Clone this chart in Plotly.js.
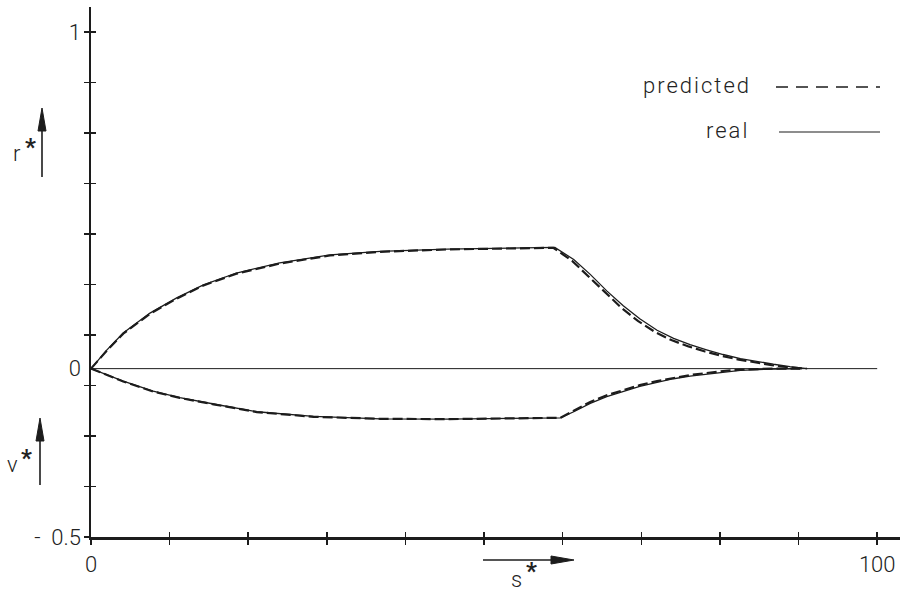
<!DOCTYPE html>
<html>
<head>
<meta charset="utf-8">
<script src="https://cdn.plot.ly/plotly-3.0.1.min.js"></script>
<style>html,body{margin:0;padding:0;background:#fff;}#chart{width:900px;height:593px;}
text.annotation-text{letter-spacing:2px;}</style>
</head>
<body>
<div id="chart"></div>
<script>
// ---- data ----
const realUpperS = [0, 2, 4.1, 7.5, 10.9, 14.3, 18.5, 24.0, 30.4, 36.8, 45.3, 52, 59.0, 61.4, 63.5, 65.6, 67.7, 69.8, 72.0, 74.1, 76.2, 78.3, 80.4, 82.6, 84.7, 86.8, 88.9, 91.1];
const realUpperR = [0, 0.055, 0.106, 0.165, 0.210, 0.249, 0.284, 0.314, 0.338, 0.348, 0.355, 0.358, 0.360, 0.324, 0.280, 0.231, 0.187, 0.148, 0.114, 0.090, 0.071, 0.056, 0.042, 0.030, 0.021, 0.013, 0.006, 0];
const predUpperS = [0, 2, 4.1, 7.5, 10.9, 14.3, 18.5, 24.0, 30.4, 36.8, 45.3, 52, 58.8, 61.2, 63.3, 65.4, 67.5, 69.6, 71.8, 73.9, 76.0, 78.1, 80.2, 82.4, 84.5, 86.6, 88.7, 91.0];
const predUpperR = [0, 0.053, 0.104, 0.163, 0.208, 0.247, 0.282, 0.312, 0.336, 0.347, 0.354, 0.357, 0.359, 0.320, 0.274, 0.225, 0.180, 0.141, 0.108, 0.084, 0.066, 0.051, 0.038, 0.027, 0.018, 0.010, 0.004, 0];
const realLowerS = [0, 2, 4.1, 7.9, 11.3, 15.6, 21.1, 28.3, 36.8, 45.3, 52, 59.7, 61.4, 63.5, 65.6, 67.7, 69.8, 72.0, 74.1, 76.2, 78.3, 80.4, 82.6, 86.8, 90.2];
const realLowerV = [0, -0.019, -0.037, -0.067, -0.086, -0.105, -0.128, -0.142, -0.149, -0.150, -0.149, -0.146, -0.128, -0.103, -0.083, -0.067, -0.053, -0.041, -0.030, -0.022, -0.016, -0.0095, -0.005, -0.001, 0];
const predLowerS = [0, 2, 4.1, 7.9, 11.3, 15.6, 21.1, 28.3, 36.8, 45.3, 52, 59.7, 61.4, 63.5, 65.6, 67.7, 69.8, 72.0, 74.1, 76.2, 78.3, 80.4, 82.6, 86.8, 90.2];
const predLowerV = [0, -0.019, -0.038, -0.068, -0.087, -0.106, -0.129, -0.143, -0.149, -0.150, -0.149, -0.146, -0.125, -0.099, -0.079, -0.063, -0.049, -0.037, -0.027, -0.019, -0.013, -0.007, -0.003, 0, 0];
const zeroS = [0, 100];
const zeroV = [0, 0];

const xTickVals = [0, 10, 20, 30, 40, 50, 60, 70, 80, 90, 100];
const xTickText = ['0', '', '', '', '', '', '', '', '', '', '100'];
const yTickVals = [-0.5, -0.35, -0.2, -0.05, 0.1, 0.25, 0.4, 0.55, 0.7, 0.85, 1.0];
const yLabelVals = [-0.5, 0, 1];
const yLabelText = ['-\u00a0\u00a00.5', '0', '1'];
const legendNames = ['predicted', 'real'];

// ---- layout helpers (pixel -> paper) ----
const L = 91, T = 7, W = 809, H = 530;
const px = x => (x - L) / W;
const py = y => (T + H - y) / H;
const INK = '#1c1c1c';
const FONT = {family: 'Roboto, "DejaVu Sans", sans-serif', size: 22, color: '#222', weight: 300};
const STAR = {family: 'Roboto, "DejaVu Sans", sans-serif', size: 24, color: '#222', weight: 700};

function upArrow(x, yTip, yTail) {
  return [
    {type: 'line', xref: 'paper', yref: 'paper', x0: px(x), x1: px(x), y0: py(yTail), y1: py(yTip + 18), line: {color: INK, width: 1.6}},
    {type: 'path', xref: 'paper', yref: 'paper', fillcolor: INK, line: {color: INK, width: 1},
     path: `M${px(x)},${py(yTip)} L${px(x - 4)},${py(yTip + 23)} L${px(x + 4)},${py(yTip + 23)} Z`}
  ];
}
function rightArrow(y, xTail, xTip) {
  return [
    {type: 'line', xref: 'paper', yref: 'paper', x0: px(xTail), x1: px(xTip - 18), y0: py(y), y1: py(y), line: {color: INK, width: 1.6}},
    {type: 'path', xref: 'paper', yref: 'paper', fillcolor: INK, line: {color: INK, width: 1},
     path: `M${px(xTip)},${py(y)} L${px(xTip - 23)},${py(y - 4)} L${px(xTip - 23)},${py(y + 4)} Z`}
  ];
}

const realLine = {color: INK, width: 1.3};
const predLine = {color: INK, width: 2.2, dash: '10px,4px'};

const traces = [
  {x: zeroS, y: zeroV, xaxis: 'x', yaxis: 'y3', mode: 'lines', line: {color: INK, width: 1}, hoverinfo: 'skip'},
  {x: predUpperS, y: predUpperR, xaxis: 'x2', yaxis: 'y2', mode: 'lines', line: predLine, name: legendNames[0]},
  {x: predLowerS, y: predLowerV, xaxis: 'x2', yaxis: 'y2', mode: 'lines', line: predLine, name: legendNames[0]},
  {x: realUpperS, y: realUpperR, xaxis: 'x', yaxis: 'y', mode: 'lines', line: realLine, name: legendNames[1]},
  {x: realLowerS, y: realLowerV, xaxis: 'x', yaxis: 'y', mode: 'lines', line: realLine, name: legendNames[1]}
];

const xRange = [0, 102.9];
const yRange = [-0.5, 1.074];

const layout = {
  width: 900, height: 593,
  margin: {l: L, r: 900 - L - W, t: T, b: 593 - T - H, pad: 0},
  paper_bgcolor: '#fff', plot_bgcolor: 'rgba(0,0,0,0)',
  showlegend: false,
  font: FONT,
  xaxis: {range: xRange, showgrid: false, zeroline: false, showline: true, linecolor: INK, linewidth: 2.5,
          ticks: 'outside', ticklen: 5, tickwidth: 1.5, tickcolor: INK,
          tickmode: 'array', tickvals: xTickVals, ticktext: xTickText, ticklabelstandoff: 1, tickfont: FONT},
  xaxis2: {range: xRange, overlaying: 'x', anchor: 'y', side: 'bottom', showgrid: false, zeroline: false, showline: false,
           ticks: 'inside', ticklen: 5, tickwidth: 1.5, tickcolor: INK,
           tickmode: 'array', tickvals: xTickVals, showticklabels: false},
  yaxis: {range: yRange, showgrid: false, zeroline: false, showline: true, linecolor: INK, linewidth: 2.5,
          ticks: 'outside', ticklen: 5, tickwidth: 1.5, tickcolor: INK,
          tickmode: 'array', tickvals: yTickVals, showticklabels: false},
  yaxis2: {range: yRange, overlaying: 'y', anchor: 'x', side: 'left', showgrid: false, zeroline: false, showline: false,
           ticks: 'inside', ticklen: 5, tickwidth: 1.5, tickcolor: INK,
           tickmode: 'array', tickvals: yTickVals, showticklabels: false},
  yaxis3: {range: yRange, overlaying: 'y', anchor: 'x', side: 'left', showgrid: false, zeroline: false, showline: false,
           ticks: '', tickmode: 'array', tickvals: yLabelVals, ticktext: yLabelText, ticklabelstandoff: 9, tickfont: FONT},
  shapes: [
    ...upArrow(42, 108, 177),
    ...upArrow(40, 418, 485),
    ...rightArrow(560, 483, 574),
    // legend samples
    {type: 'line', xref: 'paper', yref: 'paper', x0: px(776), x1: px(880), y0: py(87), y1: py(87), line: {color: INK, width: 1.4, dash: '12px,8px'}},
    {type: 'line', xref: 'paper', yref: 'paper', x0: px(779), x1: px(880), y0: py(132), y1: py(132), line: {color: INK, width: 1.2}}
  ],
  annotations: [
    {xref: 'paper', yref: 'paper', x: px(17), y: py(153), text: 'r', showarrow: false, font: FONT, xanchor: 'center', yanchor: 'middle'},
    {xref: 'paper', yref: 'paper', x: px(31), y: py(147), text: '*', showarrow: false, font: STAR, xanchor: 'center', yanchor: 'middle'},
    {xref: 'paper', yref: 'paper', x: px(13), y: py(464), text: 'v', showarrow: false, font: FONT, xanchor: 'center', yanchor: 'middle'},
    {xref: 'paper', yref: 'paper', x: px(27), y: py(458), text: '*', showarrow: false, font: STAR, xanchor: 'center', yanchor: 'middle'},
    {xref: 'paper', yref: 'paper', x: px(517), y: py(579), text: 's', showarrow: false, font: FONT, xanchor: 'center', yanchor: 'middle'},
    {xref: 'paper', yref: 'paper', x: px(532), y: py(571), text: '*', showarrow: false, font: STAR, xanchor: 'center', yanchor: 'middle'},
    {xref: 'paper', yref: 'paper', x: px(753), y: py(86), text: legendNames[0], showarrow: false, font: FONT, xanchor: 'right', yanchor: 'middle'},
    {xref: 'paper', yref: 'paper', x: px(751), y: py(131), text: legendNames[1], showarrow: false, font: FONT, xanchor: 'right', yanchor: 'middle'}
  ]
};

Plotly.newPlot('chart', traces, layout, {staticPlot: true, displayModeBar: false});
</script>
</body>
</html>
